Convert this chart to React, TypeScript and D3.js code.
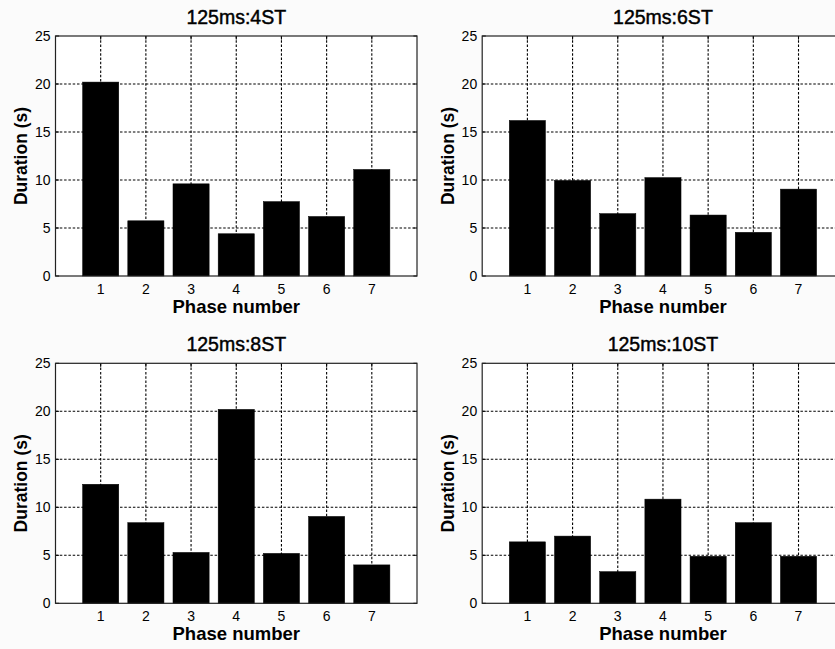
import React from "react";
import * as d3 from "d3";

const phases = [1, 2, 3, 4, 5, 6, 7];
const yTicks = [0, 5, 10, 15, 20, 25];
const titles = ["125ms:4ST", "125ms:6ST", "125ms:8ST", "125ms:10ST"];
const st4 = [20.2, 5.75, 9.6, 4.4, 7.75, 6.2, 11.1];
const st6 = [16.2, 9.95, 6.5, 10.25, 6.35, 4.55, 9.05];
const st8 = [12.4, 8.4, 5.3, 20.2, 5.2, 9.05, 4.0];
const st10 = [6.4, 7.0, 3.3, 10.85, 4.9, 8.4, 4.9];
const xLabel = "Phase number";
const yLabel = "Duration (s)";

const W = 835;
const H = 649;
const FONT = "'Liberation Sans', Arial, Helvetica, sans-serif";

const layouts = [
  { left: 55.5, top: 36, width: 361.5, height: 240 },
  { left: 482.2, top: 36, width: 361.5, height: 240 },
  { left: 55.5, top: 363.3, width: 361.5, height: 240 },
  { left: 482.2, top: 363.3, width: 361.5, height: 240 },
];

function Panel({ title, values, layout }: { title: string; values: number[]; layout: any }) {
  const { left, top, width, height } = layout;
  const x = d3.scaleLinear().domain([0, 8]).range([left, left + width]);
  const y = d3.scaleLinear().domain([0, 25]).range([top + height, top]);
  const bw = x(0.8) - x(0);
  const tick = 3.6;
  const dash = "2.5,1.8";
  return (
    <g>
      <rect x={left} y={top} width={width} height={height} fill="#ffffff" />
      {phases.map((p) => (
        <line key={"gx" + p} x1={x(p)} x2={x(p)} y1={y(25)} y2={y(0)} stroke="#000" strokeWidth={1.1} strokeDasharray={dash} />
      ))}
      {yTicks.slice(1, -1).map((t) => (
        <line key={"gy" + t} x1={x(0)} x2={x(8)} y1={y(t)} y2={y(t)} stroke="#000" strokeWidth={1.1} strokeDasharray={dash} />
      ))}
      {values.map((v, i) => (
        <rect
          key={"b" + i}
          x={x(phases[i]) - bw / 2}
          y={y(v)}
          width={bw}
          height={y(0) - y(v)}
          fill="#000"
          stroke="#000"
          strokeWidth={0.5}
        />
      ))}
      {phases.map((p) => (
        <g key={"tx" + p}>
          <line x1={x(p)} x2={x(p)} y1={y(0)} y2={y(0) - tick} stroke="#000" />
          <line x1={x(p)} x2={x(p)} y1={y(25)} y2={y(25) + tick} stroke="#000" />
          <text x={x(p)} y={y(0) + 17.5} textAnchor="middle" fontSize={14} fontFamily={FONT} fill="#000">
            {p}
          </text>
        </g>
      ))}
      {yTicks.map((t) => (
        <g key={"ty" + t}>
          <line x1={x(0)} x2={x(0) + tick} y1={y(t)} y2={y(t)} stroke="#000" />
          <line x1={x(8)} x2={x(8) - tick} y1={y(t)} y2={y(t)} stroke="#000" />
          <text x={x(0) - 5} y={y(t) + 5} textAnchor="end" fontSize={14} fontFamily={FONT} fill="#000">
            {t}
          </text>
        </g>
      ))}
      <rect x={left} y={top} width={width} height={height} fill="none" stroke="#222" strokeWidth={1.2} />
      <text x={left + width / 2} y={top - 12} textAnchor="middle" fontSize={19.5} fontFamily={FONT} fill="#000" stroke="#000" strokeWidth={0.45}>
        {title}
      </text>
      <text x={left + width / 2} y={top + height + 37} textAnchor="middle" fontSize={18.5} fontWeight="bold" fontFamily={FONT} fill="#000">
        {xLabel}
      </text>
      <text
        transform={`translate(${left - 28.5},${top + height / 2}) rotate(-90)`}
        textAnchor="middle"
        fontSize={17.5}
        fontWeight="bold"
        fontFamily={FONT}
        fill="#000"
      >
        {yLabel}
      </text>
    </g>
  );
}

export default function App() {
  const series = [st4, st6, st8, st10];
  return (
    <div style={{ position: "absolute", left: 0, top: 0, width: W, height: H, overflow: "hidden", background: "#fbfbfb" }}>
      <svg width={W} height={H} style={{ display: "block" }}>
        {series.map((s, i) => (
          <Panel key={i} title={titles[i]} values={s} layout={layouts[i]} />
        ))}
      </svg>
    </div>
  );
}
